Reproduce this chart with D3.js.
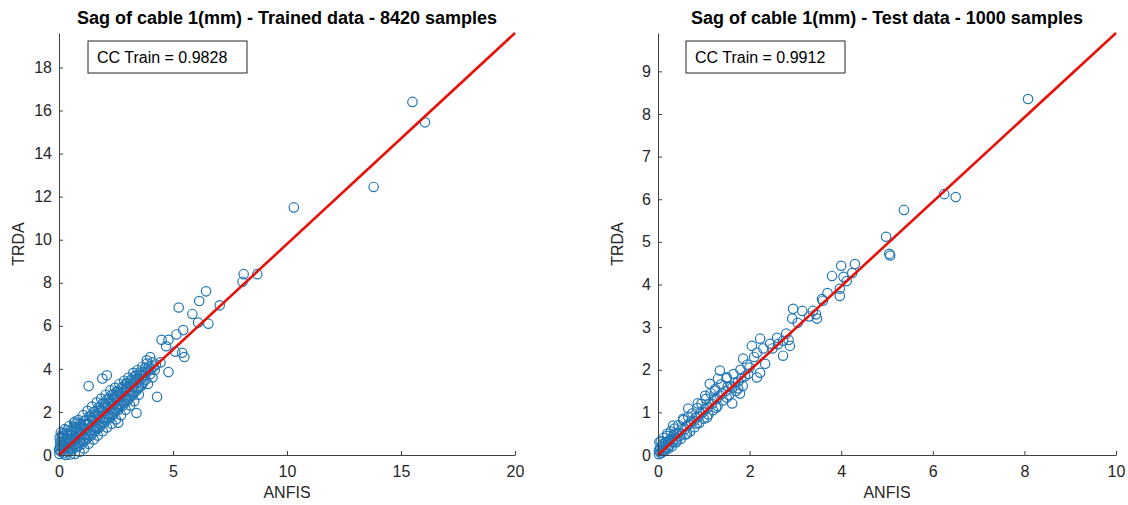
<!DOCTYPE html>
<html>
<head>
<meta charset="utf-8">
<script src="https://cdn.jsdelivr.net/npm/d3@7"></script>
<style>
  body { margin: 0; background: #fff; }
  svg { display: block; font-family: "Liberation Sans", Arial, sans-serif; }
</style>
</head>
<body>
<svg class="canvas"></svg>
<script>
// panel texts
const titles = ["Sag of cable 1(mm) - Trained data - 8420 samples", "Sag of cable 1(mm) - Test data - 1000 samples"];
const legendTexts = ["CC Train = 0.9828", "CC Train = 0.9912"];
const xLabel = "ANFIS";
const yLabel = "TRDA";

// tick values
const trainXTicks = [0, 5, 10, 15, 20];
const trainYTicks = [0, 2, 4, 6, 8, 10, 12, 14, 16, 18];
const testXTicks = [0, 2, 4, 6, 8, 10];
const testYTicks = [0, 1, 2, 3, 4, 5, 6, 7, 8, 9];

// fitted line end points [x, y]
const trainLine = [[0, 0], [20, 19.6]];
const testLine = [[0, 0], [10, 9.9]];

// trained data points [ANFIS, TRDA]
const trainPoints = [
  [0.02,0.05],[0.05,0.4],[0.03,0.8],[0.1,0.15],[0.08,1.05],[0.12,0.6],[0.0,0.25],
  [0.2,0.08],[0.18,0.5],[0.22,0.9],[0.25,1.2],[0.3,0.0],[0.28,0.3],[0.15,0.75],
  [0.4,0.15],[0.42,0.55],[0.38,0.95],[0.45,1.35],[0.5,0.02],[0.48,0.75],[0.35,1.15],
  [0.6,0.3],[0.62,0.72],[0.58,1.1],[0.66,1.5],[0.7,0.05],[0.55,0.5],[0.7,0.9],
  [0.8,0.38],[0.82,0.8],[0.78,1.25],[0.85,1.62],[0.9,0.15],[0.75,1.45],[0.92,1.0],
  [1.0,0.5],[1.03,0.95],[0.98,1.4],[1.06,1.85],[1.1,0.3],[1.12,1.2],[0.95,0.7],
  [1.2,0.72],[1.22,1.15],[1.18,1.6],[1.25,2.05],[1.3,0.52],[1.3,1.4],[1.15,0.95],
  [1.4,0.9],[1.43,1.35],[1.38,1.8],[1.45,2.25],[1.52,0.72],[1.5,1.6],[1.35,1.1],
  [1.6,1.1],[1.62,1.55],[1.57,2.0],[1.66,2.45],[1.7,0.9],[1.72,1.8],[1.55,1.3],
  [1.8,1.3],[1.82,1.75],[1.78,2.2],[1.85,2.62],[1.92,1.1],[1.9,2.0],[1.75,1.5],
  [2.0,1.5],[2.03,1.95],[1.98,2.4],[2.05,2.8],[2.1,1.28],[2.12,2.2],[1.95,1.72],
  [2.2,1.7],[2.22,2.15],[2.18,2.6],[2.25,3.0],[2.32,1.45],[2.3,2.4],[2.15,1.9],
  [2.4,1.9],[2.42,2.35],[2.38,2.8],[2.46,3.12],[2.5,1.65],[2.52,2.6],[2.35,2.1],
  [2.6,2.1],[2.62,2.55],[2.58,2.95],[2.65,3.3],[2.72,1.85],[2.7,2.8],[2.55,2.3],
  [2.8,2.3],[2.82,2.75],[2.78,3.15],[2.86,3.45],[2.92,2.1],[2.9,3.0],[2.75,2.5],
  [3.0,2.52],[3.02,2.95],[2.98,3.35],[3.05,3.6],[3.12,2.3],[3.1,3.2],[2.95,2.7],
  [3.2,2.75],[3.22,3.15],[3.18,3.5],[3.26,3.82],[3.3,2.5],[3.3,3.35],[3.15,2.95],
  [3.4,3.0],[3.42,3.35],[3.38,3.7],[3.45,3.95],[3.5,2.8],[3.5,3.55],
  [3.6,3.2],[3.62,3.55],[3.58,3.88],[3.66,4.1],[3.7,3.4],
  [3.8,3.5],[3.82,3.8],[3.78,4.05],[3.86,4.25],[3.9,3.3],
  [4.0,3.75],[4.05,4.0],[4.1,4.3],[4.2,3.95],[4.25,4.2],
  [0.1,0.45],[0.12,0.85],[0.3,0.6],[0.32,1.0],[0.5,0.35],[0.52,1.15],[0.7,0.5],
  [0.72,1.3],[0.9,0.6],[0.92,1.45],[1.1,0.75],[1.12,1.6],[1.3,0.95],[1.32,1.8],
  [1.5,1.15],[1.52,2.0],[1.7,1.35],[1.72,2.2],[1.9,1.55],[1.92,2.4],[2.1,1.75],
  [2.12,2.6],[2.3,1.95],[2.32,2.8],[2.5,2.15],[2.52,2.95],[2.7,2.35],[2.72,3.1],
  [2.9,2.55],[2.92,3.3],[3.1,2.75],[3.12,3.45],[3.3,2.95],[3.32,3.65],[3.5,3.15],
  [3.52,3.8],[3.7,3.7],[3.9,3.9],[4.1,3.6],[0.05,0.6],[0.15,0.3],[0.25,0.7],
  [0.35,0.4],[0.45,0.95],[0.55,0.2],[0.65,1.2],[0.85,1.1],[1.05,1.25],[1.25,1.45],
  [1.45,1.7],[1.65,1.9],[1.85,2.1],[2.05,2.35],[2.25,2.5],[2.45,2.7],[2.65,2.9],
  [0.06,0.2],[0.16,1.0],[0.26,0.45],[0.36,0.75],[0.46,0.25],[0.56,0.95],[0.66,0.65],
  [0.76,1.05],[0.86,0.45],[0.96,1.15],[1.06,0.62],[1.16,1.4],[1.26,0.82],[1.36,1.55],
  [1.46,1.0],[1.56,1.75],[1.66,1.22],[1.76,1.95],[1.86,1.42],[1.96,2.15],[2.06,1.62],
  [2.16,2.35],[2.26,1.82],[2.36,2.55],[2.46,2.02],[2.56,2.75],[2.66,2.22],[2.76,2.9],
  [2.86,2.42],[2.96,3.1],[3.06,2.62],[3.16,3.3],[3.26,2.85],[3.36,3.5],[3.46,3.1],
  [3.56,3.7],[3.66,3.3],[3.76,3.85],[3.96,4.1],[4.15,4.1],
  [1.3,3.2],[1.9,3.55],[2.1,3.7],[1.65,1.25],[0.7,1.55],[2.6,1.5],[3.4,1.95],
  [4.3,2.7],[4.8,3.85],[3.85,4.4],[4.0,4.55],[4.45,4.3],[5.1,4.8],[5.4,4.75],
  [5.5,4.55],[4.7,5.05],[4.5,5.35],[4.8,5.35],[5.15,5.6],[5.45,5.8],[6.1,6.15],
  [6.55,6.1],[5.85,6.55],[5.25,6.85],[7.05,6.95],[6.15,7.15],[6.45,7.6],[8.05,8.05],
  [8.1,8.4],[8.7,8.4],[10.3,11.5],[13.8,12.45],[15.5,16.4],[16.05,15.45]
];

// test data points [ANFIS, TRDA]
const testPoints = [
  [0.02,0.02],[0.05,0.15],[0.03,0.3],[0.08,0.05],[0.1,0.25],[0.12,0.4],[0.15,0.1],
  [0.18,0.3],[0.2,0.45],[0.22,0.15],[0.25,0.35],[0.28,0.55],[0.3,0.2],[0.33,0.45],
  [0.36,0.62],[0.4,0.3],[0.42,0.5],[0.45,0.7],[0.5,0.38],[0.52,0.6],[0.55,0.82],
  [0.6,0.48],[0.62,0.68],[0.66,0.9],[0.7,0.55],[0.72,0.78],[0.75,0.98],[0.8,0.65],
  [0.82,0.88],[0.86,1.1],[0.9,0.75],[0.92,0.98],[0.95,1.2],[1.0,0.85],[1.02,1.08],
  [1.05,1.32],[1.1,0.95],[1.12,1.2],[1.15,1.45],[1.2,1.05],[1.22,1.3],[1.25,1.55],
  [1.3,1.15],[1.35,1.4],[1.38,1.66],[1.42,1.28],[1.48,1.5],[1.5,1.8],[1.55,1.4],
  [1.6,1.62],[1.65,1.9],[1.7,1.5],[1.75,1.72],[1.8,2.0],[1.85,1.62],[1.9,1.85],
  [1.95,2.12],[0.33,0.69],[0.2,0.5],[0.55,0.85],[0.66,1.09],[0.87,1.21],[1.03,1.39],
  [1.13,1.67],[1.24,1.51],[1.35,1.98],[1.31,1.79],[1.5,1.82],[1.75,1.56],[1.62,1.58],
  [1.79,1.44],[1.86,2.26],[2.0,2.05],[2.16,1.82],[2.23,1.93],[1.5,1.35],[1.62,1.21],
  [1.27,1.11],[1.07,0.88],[0.85,0.74],[0.63,0.5],[0.41,0.34],[1.97,1.9],[2.34,2.14],
  [0.05,0.05],[0.08,0.2],[0.12,0.12],[0.15,0.28],[0.18,0.18],[0.22,0.32],[0.25,0.22],
  [0.28,0.38],[0.32,0.3],[0.35,0.5],[0.38,0.38],[0.45,0.52],[0.48,0.45],[0.58,0.6],
  [0.68,0.72],[0.78,0.8],[0.88,0.9],[0.98,1.0],[1.08,1.1],[1.18,1.2],[1.28,1.32],
  [1.4,1.45],[1.52,1.6],[1.68,1.7],[1.82,1.8],[2.1,2.3],[2.3,2.5],[2.5,2.5],
  [2.62,2.6],[2.85,2.7],[3.05,3.1],[3.3,3.25],[3.45,3.3],[3.7,3.8],[0.02,0.12],[0.06,0.32],
  [2.23,2.73],[2.05,2.56],[2.16,2.4],[2.45,2.61],[2.6,2.75],[2.73,2.68],[2.88,2.56],
  [2.73,2.33],[2.8,2.85],[2.95,3.43],[2.93,3.2],[3.15,3.38],[3.38,3.38],[3.47,3.2],
  [3.6,3.62],[3.58,3.66],[3.8,4.2],[4.0,4.44],[4.05,4.18],[4.3,4.48],[4.24,4.27],
  [4.12,4.08],[3.97,3.9],[3.97,3.73],[4.98,5.12],[5.05,4.72],[5.07,4.68],[5.37,5.75],
  [6.25,6.12],[6.5,6.05],[8.08,8.35]
];

const w = 1128;
const h = 505;

const svg = d3.select("svg.canvas")
  .attr("width", w)
  .attr("height", h);

const panels = [
  { title: titles[0], legend: legendTexts[0], points: trainPoints, line: trainLine,
    xDomain: [0, 20], yDomain: [0, 19.6], xRange: [59, 515], yRange: [455, 33],
    xTicks: trainXTicks, yTicks: trainYTicks, legendX: 88 },
  { title: titles[1], legend: legendTexts[1], points: testPoints, line: testLine,
    xDomain: [0, 10], yDomain: [0, 9.9], xRange: [658, 1116], yRange: [455, 33],
    xTicks: testXTicks, yTicks: testYTicks, legendX: 686 }
];

let drawPanel = (p) => {
  let xScale = d3.scaleLinear().domain(p.xDomain).range(p.xRange);
  let yScale = d3.scaleLinear().domain(p.yDomain).range(p.yRange);

  let g = svg.append("g");

  // points
  g.append("g")
    .selectAll("circle")
    .data(p.points)
    .enter()
    .append("circle")
    .attr("cx", d => xScale(d[0]))
    .attr("cy", d => yScale(d[1]))
    .attr("r", 4.7)
    .attr("fill", "none")
    .attr("stroke", "#2276b4")
    .attr("stroke-width", 1.2);

  // red fit line
  g.append("path")
    .datum(p.line)
    .attr("d", d3.line().x(d => xScale(d[0])).y(d => yScale(d[1])))
    .attr("stroke", "#e3120b")
    .attr("stroke-width", 2.6)
    .attr("fill", "none");

  // axes, ticks pointing inward like matlab
  let xAxis = d3.axisBottom(xScale).tickValues(p.xTicks).tickSizeInner(-4).tickSizeOuter(0).tickPadding(11);
  let yAxis = d3.axisLeft(yScale).tickValues(p.yTicks).tickSizeInner(-4).tickSizeOuter(0).tickPadding(7);

  let gx = g.append("g")
    .attr("transform", "translate(0, " + p.yRange[0] + ")")
    .call(xAxis);
  let gy = g.append("g")
    .attr("transform", "translate(" + p.xRange[0] + ", 0)")
    .call(yAxis);

  [gx, gy].forEach(a => {
    a.select(".domain").attr("stroke", "#404040");
    a.selectAll(".tick line").attr("stroke", "#404040");
    a.selectAll(".tick text")
      .attr("fill", "#262626")
      .style("font-size", "16px")
      .style("font-family", "'Liberation Sans', Arial, sans-serif");
  });

  let cx = (p.xRange[0] + p.xRange[1]) / 2;
  let cy = (p.yRange[0] + p.yRange[1]) / 2;

  g.append("text")
    .attr("x", cx)
    .attr("y", 24)
    .attr("text-anchor", "middle")
    .attr("font-weight", "bold")
    .attr("font-size", 18)
    .attr("fill", "#000")
    .text(p.title);

  g.append("text")
    .attr("x", cx)
    .attr("y", 498)
    .attr("text-anchor", "middle")
    .attr("font-size", 16)
    .attr("fill", "#262626")
    .text(xLabel);

  g.append("text")
    .attr("transform", "translate(" + (p.xRange[0] - 35) + "," + cy + ") rotate(-90)")
    .attr("text-anchor", "middle")
    .attr("font-size", 16)
    .attr("fill", "#262626")
    .text(yLabel);

  // legend box
  g.append("rect")
    .attr("x", p.legendX)
    .attr("y", 41)
    .attr("width", 159)
    .attr("height", 32)
    .attr("fill", "#fff")
    .attr("stroke", "#262626")
    .attr("stroke-width", 1);

  g.append("text")
    .attr("x", p.legendX + 9)
    .attr("y", 63)
    .attr("font-size", 16)
    .attr("fill", "#000")
    .text(p.legend);
};

panels.forEach(drawPanel);
</script>
</body>
</html>
